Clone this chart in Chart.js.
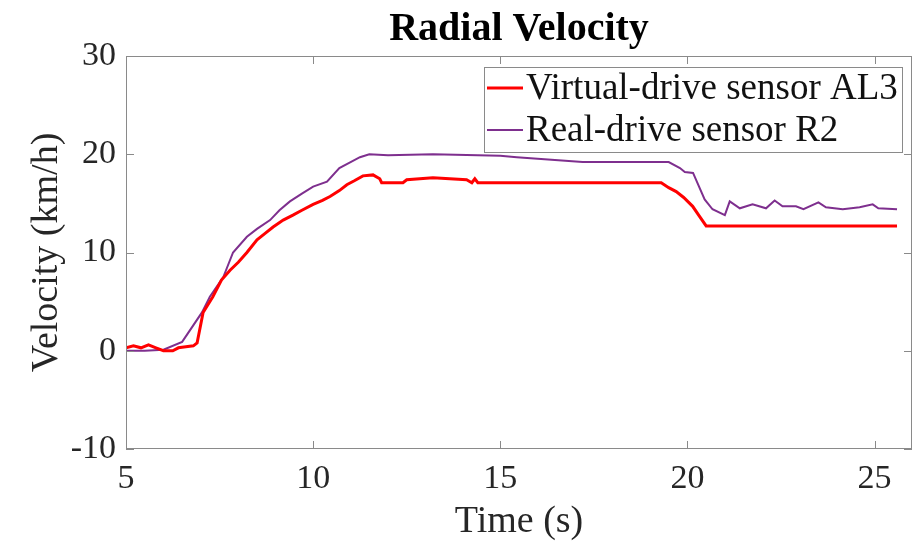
<!DOCTYPE html>
<html>
<head>
<meta charset="utf-8">
<script src="https://cdn.jsdelivr.net/npm/chart.js@4/dist/chart.umd.min.js"></script>
<style>
  html, body { margin: 0; padding: 0; background: #fff; }
  #wrap { width: 915px; height: 547px; }
</style>
</head>
<body>
<div id="wrap"><canvas id="radialChart" width="915" height="547"></canvas></div>
<script>
// data
var chartTitle = 'Radial Velocity';
var xTicks = [5, 10, 15, 20, 25];
var yTicks = [-10, 0, 10, 20, 30];

var virtualLabel = 'Virtual-drive sensor AL3';
var virtualTime = [5.0, 5.2, 5.4, 5.6, 5.8, 6.0, 6.25, 6.4, 6.6, 6.8, 6.9, 7.06, 7.32, 7.55, 7.78, 8.0, 8.23, 8.5, 8.7, 8.93, 9.2, 9.46, 9.7, 10.0, 10.25, 10.45, 10.7, 10.9, 11.1, 11.33, 11.6, 11.78, 11.83, 12.4, 12.5, 13.2, 14.1, 14.24, 14.32, 14.4, 19.3, 19.5, 19.7, 19.9, 20.14, 20.3, 20.5, 25.6];
var virtualVel = [0.3, 0.5, 0.3, 0.6, 0.3, 0.0, 0.0, 0.3, 0.4, 0.5, 0.8, 3.9, 5.5, 7.2, 8.2, 9.0, 10.0, 11.3, 11.9, 12.6, 13.3, 13.8, 14.3, 14.9, 15.3, 15.7, 16.3, 16.9, 17.3, 17.8, 17.9, 17.5, 17.1, 17.1, 17.4, 17.6, 17.4, 17.1, 17.5, 17.1, 17.1, 16.6, 16.2, 15.6, 14.7, 13.8, 12.7, 12.7];

var realLabel = 'Real-drive sensor R2';
var realTime = [5.0, 5.5, 6.0, 6.5, 7.03, 7.24, 7.6, 7.86, 8.23, 8.5, 8.85, 9.1, 9.38, 9.7, 10.0, 10.37, 10.7, 11.0, 11.25, 11.5, 12.0, 13.2, 15.0, 15.44, 17.2, 19.5, 19.8, 19.93, 20.15, 20.46, 20.67, 21.0, 21.13, 21.4, 21.74, 22.1, 22.33, 22.54, 22.9, 23.1, 23.5, 23.7, 24.15, 24.6, 24.95, 25.1, 25.6];
var realVel = [0.0, 0.0, 0.1, 0.9, 3.9, 5.5, 7.5, 10.0, 11.6, 12.4, 13.3, 14.3, 15.2, 16.0, 16.7, 17.2, 18.6, 19.2, 19.7, 20.0, 19.9, 20.0, 19.85, 19.7, 19.2, 19.2, 18.6, 18.2, 18.1, 15.4, 14.4, 13.8, 15.2, 14.5, 14.9, 14.5, 15.3, 14.7, 14.7, 14.4, 15.1, 14.6, 14.4, 14.6, 14.9, 14.5, 14.4];

function toPoints(xs, ys) {
  return xs.map(function (x, i) { return { x: x, y: ys[i] }; });
}

var serif = "'Liberation Serif', 'Times New Roman', serif";
var axisGray = '#8a8a8a';

// box, inner ticks, title and legend drawn on top (MATLAB look)
var matlabFrame = {
  id: 'matlabFrame',
  afterDraw: function (chart) {
    var c = chart.ctx, a = chart.chartArea;
    var xs = chart.scales.x, ys = chart.scales.y;
    c.save();
    c.strokeStyle = axisGray;
    c.lineWidth = 1;
    c.strokeRect(a.left + 0.5, a.top + 0.5, a.right - a.left - 1, a.bottom - a.top - 1);
    var t = 8;
    c.beginPath();
    xTicks.forEach(function (v) {
      var px = Math.round(xs.getPixelForValue(v)) + 0.5;
      c.moveTo(px, a.bottom); c.lineTo(px, a.bottom - t);
      c.moveTo(px, a.top); c.lineTo(px, a.top + t);
    });
    yTicks.forEach(function (v) {
      var py = Math.round(ys.getPixelForValue(v)) + 0.5;
      c.moveTo(a.left, py); c.lineTo(a.left + t, py);
      c.moveTo(a.right, py); c.lineTo(a.right - t, py);
    });
    c.stroke();

    // title
    c.fillStyle = '#000';
    c.font = 'bold 40px ' + serif;
    c.textAlign = 'center';
    c.textBaseline = 'middle';
    c.fillText(chartTitle, (a.left + a.right) / 2, 30);

    // legend
    var bx = 484, by = 67, bw = 418, bh = 85;
    c.fillStyle = '#fff';
    c.fillRect(bx, by, bw, bh);
    c.strokeStyle = axisGray;
    c.strokeRect(bx + 0.5, by + 0.5, bw, bh);
    c.font = '37px ' + serif;
    c.textAlign = 'left';
    chart.data.datasets.forEach(function (ds, i) {
      var ry = by + 21 + i * 42;
      c.strokeStyle = ds.borderColor;
      c.lineWidth = ds.borderWidth;
      c.beginPath();
      c.moveTo(bx + 3, ry); c.lineTo(bx + 39, ry);
      c.stroke();
      c.fillStyle = '#111';
      c.fillText(ds.label, bx + 42, ry + 1);
    });
    c.restore();
  }
};

var ctx = document.getElementById('radialChart').getContext('2d');
var myChart = new Chart(ctx, {
  type: 'line',
  data: {
    datasets: [{
      label: virtualLabel,
      data: toPoints(virtualTime, virtualVel),
      borderColor: '#ff0000',
      borderWidth: 3,
      pointRadius: 0,
      tension: 0
    }, {
      label: realLabel,
      data: toPoints(realTime, realVel),
      borderColor: '#7e2f8e',
      borderWidth: 2,
      pointRadius: 0,
      tension: 0
    }]
  },
  plugins: [matlabFrame],
  options: {
    responsive: false,
    animation: false,
    layout: { padding: { top: 56, right: 3, left: 0, bottom: 0 } },
    plugins: {
      legend: { display: false },
      title: { display: false },
      tooltip: { enabled: false }
    },
    scales: {
      x: {
        type: 'linear',
        min: 5,
        max: 26,
        afterBuildTicks: function (s) { s.ticks = xTicks.map(function (v) { return { value: v }; }); },
        afterFit: function (s) { s.height = 98; },
        grid: { display: false, drawTicks: false },
        border: { display: false },
        ticks: { font: { family: serif, size: 34 }, color: '#262626', padding: 10, maxRotation: 0 },
        title: { display: true, text: 'Time (s)', font: { family: serif, size: 38 }, color: '#262626', padding: { top: 0, bottom: 2 } }
      },
      y: {
        min: -10,
        max: 30,
        afterBuildTicks: function (s) { s.ticks = yTicks.map(function (v) { return { value: v }; }); },
        afterFit: function (s) { s.width = 126; },
        grid: { display: false, drawTicks: false },
        border: { display: false },
        ticks: { font: { family: serif, size: 34 }, color: '#262626', padding: 10 },
        title: { display: true, text: 'Velocity (km/h)', font: { family: serif, size: 38 }, color: '#262626', padding: { top: 24, bottom: 0 } }
      }
    }
  }
});
</script>
</body>
</html>
